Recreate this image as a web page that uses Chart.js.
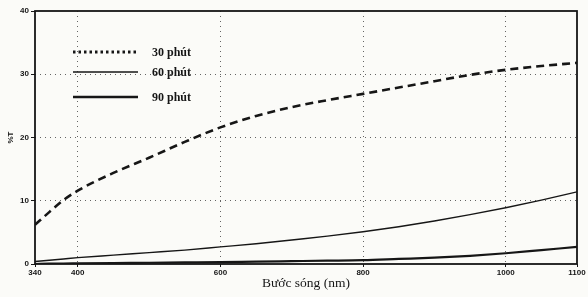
<!DOCTYPE html>
<html>
<head>
<meta charset="utf-8">
<script src="https://cdn.jsdelivr.net/npm/chart.js@4/dist/chart.umd.min.js"></script>
<style>
  html, body { margin: 0; padding: 0; background: #fbfbf8; }
  #wrap { width: 588px; height: 297px; }
</style>
</head>
<body>
<div id="wrap"><canvas id="chart"></canvas></div>
<script>
// wavelength (nm) sample points
const WAVELENGTHS = [340, 360, 380, 400, 450, 500, 550, 600, 650, 700, 750, 800, 850, 900, 950, 1000, 1050, 1100];
const T_30 = [6.2, 8.2, 10.1, 11.6, 14.4, 16.8, 19.3, 21.6, 23.4, 24.8, 25.9, 26.9, 27.9, 28.9, 29.9, 30.7, 31.3, 31.8];
const T_60 = [0.4, 0.6, 0.8, 1.0, 1.4, 1.8, 2.2, 2.7, 3.2, 3.8, 4.4, 5.1, 5.9, 6.8, 7.8, 8.9, 10.1, 11.4];
const T_90 = [0.0, 0.05, 0.08, 0.1, 0.15, 0.2, 0.25, 0.3, 0.38, 0.45, 0.52, 0.6, 0.8, 1.0, 1.3, 1.7, 2.2, 2.7];
const SERIES_LABELS = ["30 phút", "60 phút", "90 phút"];
const X_TICKS = [340, 400, 600, 800, 1000, 1100];
const Y_TICKS = [0, 10, 20, 30, 40];

const INK = "#161616";

function pts(ys) {
    return WAVELENGTHS.map((x, i) => ({ x: x, y: ys[i] }));
}

// frame around the plot
const framePlugin = {
    id: "frame",
    beforeDatasetsDraw(chart) {
        const { ctx, chartArea: a } = chart;
        ctx.save();
        ctx.strokeStyle = INK;
        ctx.lineWidth = 1.8;
        ctx.strokeRect(a.left, a.top, a.right - a.left, a.bottom - a.top);
        ctx.restore();
    }
};

// legend drawn inside the plot, top-left
const insideLegend = {
    id: "insideLegend",
    afterDatasetsDraw(chart, args, opts) {
        const ctx = chart.ctx;
        ctx.save();
        chart.data.datasets.forEach((ds, i) => {
            const y = opts.rows[i];
            ctx.beginPath();
            ctx.strokeStyle = INK;
            ctx.lineWidth = opts.widths[i];
            ctx.setLineDash(opts.dashes[i]);
            ctx.moveTo(opts.x0, y);
            ctx.lineTo(opts.x1, y);
            ctx.stroke();
            ctx.setLineDash([]);
            ctx.fillStyle = INK;
            ctx.font = "bold 12px 'Liberation Serif', 'DejaVu Serif', serif";
            ctx.textBaseline = "middle";
            ctx.fillText(ds.label, opts.textX, y + 1);
        });
        ctx.restore();
    }
};

const tickFont = { family: "'Liberation Sans', 'DejaVu Sans', sans-serif", size: 8, weight: "bold" };

new Chart(document.getElementById("chart").getContext("2d"), {
    type: "line",
    data: {
        datasets: [
            {
                label: SERIES_LABELS[0],
                data: pts(T_30),
                borderColor: INK,
                borderWidth: 2.6,
                borderDash: [8, 5],
                pointRadius: 0,
                cubicInterpolationMode: "monotone"
            },
            {
                label: SERIES_LABELS[1],
                data: pts(T_60),
                borderColor: INK,
                borderWidth: 1.4,
                pointRadius: 0,
                cubicInterpolationMode: "monotone"
            },
            {
                label: SERIES_LABELS[2],
                data: pts(T_90),
                borderColor: INK,
                borderWidth: 2.2,
                pointRadius: 0,
                cubicInterpolationMode: "monotone"
            }
        ]
    },
    options: {
        responsive: true,
        maintainAspectRatio: false,
        animation: false,
        layout: { padding: { top: 11, right: 11, left: 0, bottom: 0 } },
        scales: {
            x: {
                type: "linear",
                min: 340,
                max: 1100,
                afterBuildTicks: s => { s.ticks = X_TICKS.map(v => ({ value: v })); },
                afterFit: s => { s.height = 33; },
                ticks: { color: INK, font: tickFont, padding: 1, maxRotation: 0, autoSkip: false, callback: v => String(v) },
                grid: {
                    color: ctx => (ctx.tick && (ctx.tick.value === 340 || ctx.tick.value === 1100)) ? "rgba(0,0,0,0)" : "rgba(0,0,0,0.6)",
                    lineWidth: 1,
                    tickLength: 3,
                    tickColor: INK
                },
                border: { display: false, dash: [1, 4] },
                title: {
                    display: true,
                    text: "Bước sóng (nm)",
                    color: INK,
                    font: { family: "'Liberation Serif', 'DejaVu Serif', serif", size: 13.5 },
                    padding: { top: 0, bottom: 5 }
                }
            },
            y: {
                min: 0,
                max: 40,
                afterBuildTicks: s => { s.ticks = Y_TICKS.map(v => ({ value: v })); },
                afterFit: s => { s.width = 35; },
                ticks: { color: INK, font: tickFont, padding: 2, callback: v => String(v) },
                grid: {
                    color: ctx => (ctx.tick && (ctx.tick.value === 0 || ctx.tick.value === 40)) ? "rgba(0,0,0,0)" : "rgba(0,0,0,0.6)",
                    lineWidth: 1,
                    tickLength: 4,
                    tickColor: INK
                },
                border: { display: false, dash: [1, 4] },
                title: {
                    display: true,
                    text: "%T",
                    color: INK,
                    font: { family: "'Liberation Sans', 'DejaVu Sans', sans-serif", size: 8, weight: "bold" },
                    padding: { top: 6, bottom: 0 }
                }
            }
        },
        plugins: {
            legend: { display: false },
            tooltip: { enabled: false },
            insideLegend: {
                x0: 73, x1: 138, textX: 152,
                rows: [52, 72, 97],
                widths: [3, 1.4, 2.6],
                dashes: [[2.5, 3], [], []]
            }
        }
    },
    plugins: [framePlugin, insideLegend]
});
</script>
</body>
</html>
